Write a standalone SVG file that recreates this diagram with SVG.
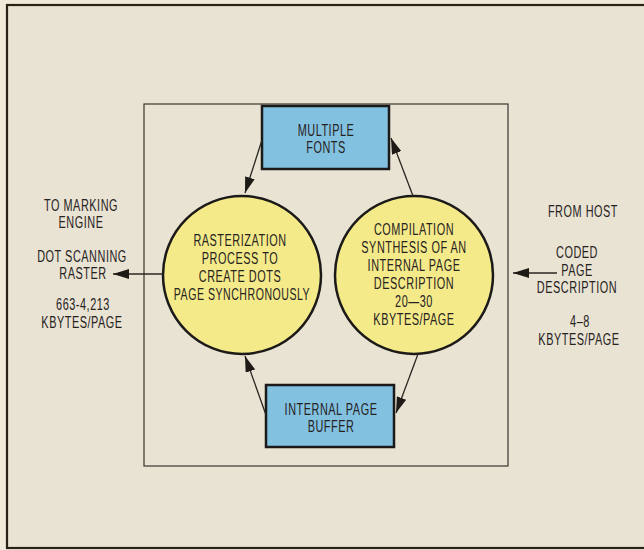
<svg xmlns="http://www.w3.org/2000/svg" width="644" height="550" viewBox="0 0 644 550">
<defs>
<marker id="ah" viewBox="0 0 16 10" refX="16" refY="5" markerWidth="16" markerHeight="10" markerUnits="userSpaceOnUse" orient="auto">
<path d="M0,0 L16,5 L0,10 z" fill="#1e1a16"/>
</marker>
<style>
.t{font-family:"Liberation Sans",Arial,sans-serif;font-size:16px;letter-spacing:0.8px;fill:#26221e;text-anchor:middle}
.box{fill:#82c1df;stroke:#1b1a18;stroke-width:2.5}
.circ{fill:#f4ea8a;stroke:#1b1a18;stroke-width:2.5}
.con{stroke:#2a2622;stroke-width:1.3;fill:none;marker-end:url(#ah)}
</style>
</defs>
<rect x="0" y="0" width="644" height="550" fill="#f1eadb"/>
<rect x="7" y="5" width="650" height="543" fill="#e9e3d3" stroke="#2a2218" stroke-width="2.2"/>
<rect x="144" y="104" width="364" height="362" fill="none" stroke="#3a342e" stroke-width="1.2"/>

<g id="multiple-fonts">
<rect class="box" x="262" y="106" width="127" height="63"/>
<text class="t" transform="translate(326,136) scale(0.68,1)">MULTIPLE</text>
<text class="t" transform="translate(326,153) scale(0.68,1)">FONTS</text>
</g>
<g id="internal-page-buffer">
<rect class="box" x="266" y="385" width="128" height="62"/>
<text class="t" transform="translate(331,415) scale(0.68,1)">INTERNAL PAGE</text>
<text class="t" transform="translate(331,432) scale(0.68,1)">BUFFER</text>
</g>
<g id="rasterization">
<circle class="circ" cx="242" cy="275" r="79"/>
<text class="t" transform="translate(240,246) scale(0.68,1)">RASTERIZATION</text>
<text class="t" transform="translate(240,264) scale(0.68,1)">PROCESS TO</text>
<text class="t" transform="translate(240,282) scale(0.68,1)">CREATE DOTS</text>
<text class="t" transform="translate(242,300) scale(0.66,1)">PAGE SYNCHRONOUSLY</text>
</g>
<g id="compilation">
<circle class="circ" cx="414" cy="275" r="79"/>
<text class="t" transform="translate(414,235) scale(0.68,1)">COMPILATION</text>
<text class="t" transform="translate(414,253) scale(0.68,1)">SYNTHESIS OF AN</text>
<text class="t" transform="translate(414,271) scale(0.68,1)">INTERNAL PAGE</text>
<text class="t" transform="translate(414,289) scale(0.68,1)">DESCRIPTION</text>
<text class="t" transform="translate(414,307) scale(0.68,1)">20—30</text>
<text class="t" transform="translate(414,325) scale(0.68,1)">KBYTES/PAGE</text>
</g>
<g id="output-label">
<text class="t" transform="translate(81,211) scale(0.68,1)">TO MARKING</text>
<text class="t" transform="translate(81,228) scale(0.68,1)">ENGINE</text>
<text class="t" transform="translate(82,262) scale(0.68,1)">DOT SCANNING</text>
<text class="t" transform="translate(83,279) scale(0.68,1)">RASTER</text>
<text class="t" transform="translate(83,310) scale(0.68,1)">663-4,213</text>
<text class="t" transform="translate(82,328) scale(0.68,1)">KBYTES/PAGE</text>
</g>
<g id="input-label">
<text class="t" transform="translate(583,217) scale(0.68,1)">FROM HOST</text>
<text class="t" transform="translate(577,258) scale(0.68,1)">CODED</text>
<text class="t" transform="translate(577,276) scale(0.68,1)">PAGE</text>
<text class="t" transform="translate(577,293) scale(0.68,1)">DESCRIPTION</text>
<text class="t" transform="translate(580,327) scale(0.68,1)">4–8</text>
<text class="t" transform="translate(579,345) scale(0.68,1)">KBYTES/PAGE</text>
</g>
<g id="connectors">
<line class="con" x1="262" y1="140" x2="245" y2="193"/>
<line class="con" x1="413" y1="196" x2="391" y2="138"/>
<line class="con" x1="418" y1="354" x2="396" y2="413"/>
<line class="con" x1="266" y1="415" x2="245" y2="356"/>
<line class="con" x1="163" y1="274" x2="113" y2="274"/>
<line class="con" x1="557" y1="273" x2="513" y2="273"/>
</g>
</svg>
